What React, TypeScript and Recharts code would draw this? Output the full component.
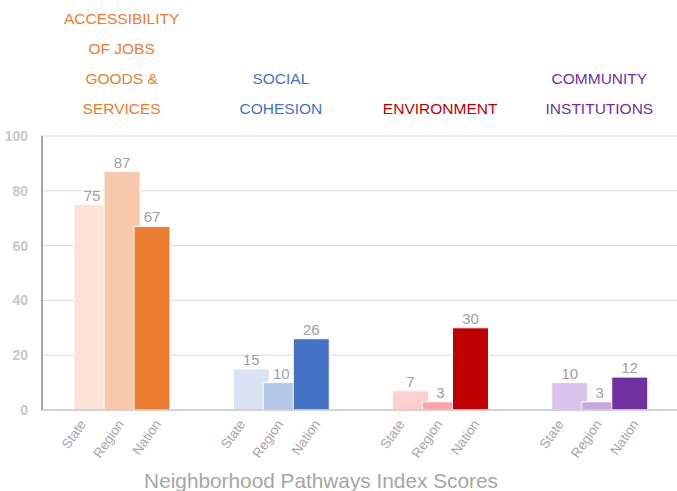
import { Bar, BarChart, CartesianGrid, Cell, LabelList, XAxis, YAxis } from 'recharts'

const categories = ['Accessibility', 'Social Cohesion', 'Environment', 'Community Institutions']
const headers = [
  ['ACCESSIBILITY', 'OF JOBS', 'GOODS &', 'SERVICES'],
  ['SOCIAL', 'COHESION'],
  ['ENVIRONMENT'],
  ['COMMUNITY', 'INSTITUTIONS'],
]
const levels = ['State', 'Region', 'Nation']
const stateScores = [75, 15, 7, 10]
const regionScores = [87, 10, 3, 3]
const nationScores = [67, 26, 30, 12]
const yTicks = [0, 20, 40, 60, 80, 100]

const stateColors = ['#FBE3D6', '#DAE3F3', '#FFCFCF', '#D9C3EC']
const regionColors = ['#F7C8AC', '#B4C7E7', '#FFA3A3', '#C9A5E3']
const nationColors = ['#ED7D31', '#4472C4', '#C00000', '#7030A0']

const data = categories.map((name, i) => ({
  name,
  state: stateScores[i],
  region: regionScores[i],
  nation: nationScores[i],
}))

const FONT = '"Liberation Sans", Arial, sans-serif'
const labelOffsets = [-35, 3, 40]

function HeaderTick({ x, y, index }: any) {
  const lines = headers[index] || []
  const n = lines.length
  return (
    <g>
      {lines.map((line, i) => (
        <text
          key={line}
          x={x}
          y={y - 22 - (n - 1 - i) * 30}
          textAnchor="middle"
          fill={nationColors[index]}
          fontSize={15.5}
          fontFamily={FONT}
        >
          {line}
        </text>
      ))}
    </g>
  )
}

function LevelTick({ x, y }: any) {
  return (
    <g>
      {levels.map((lvl, i) => (
        <text
          key={lvl}
          x={0}
          y={0}
          transform={`translate(${x + labelOffsets[i]},${y + 12}) rotate(-55)`}
          textAnchor="end"
          fill="#a6a6a6"
          fontSize={13.5}
          fontFamily={FONT}
        >
          {lvl}
        </text>
      ))}
    </g>
  )
}

const valueLabel = { position: 'top' as const, fill: '#a0a0a0', fontSize: 15, fontFamily: FONT, offset: 4 }

export default function App() {
  return (
    <div style={{ position: 'absolute', left: 0, top: 0, background: '#fff' }}>
      <BarChart
        width={677}
        height={491}
        data={data}
        margin={{ top: 0, right: -2, left: 0, bottom: 0 }}
        barSize={36}
        barGap={-6}
      >
        <CartesianGrid vertical={false} stroke="#dcdcdc" />
        <XAxis
          xAxisId="top"
          orientation="top"
          dataKey="name"
          height={136}
          axisLine={false}
          tickLine={false}
          tickSize={0}
          tickMargin={0}
          interval={0}
          tick={<HeaderTick />}
        />
        <XAxis
          dataKey="name"
          height={81}
          axisLine={{ stroke: '#c8c8c8', strokeWidth: 1.5 }}
          tickLine={false}
          tickSize={0}
          interval={0}
          tick={<LevelTick />}
        />
        <YAxis
          width={42}
          domain={[0, 100]}
          ticks={yTicks}
          axisLine={{ stroke: '#a6a6a6', strokeWidth: 2 }}
          tickLine={false}
          tick={{ fill: '#c8c8c8', fontSize: 14, fontWeight: 'bold', fontFamily: FONT }}
          tickMargin={8}
        />
        <Bar dataKey="state" stroke="#fff" strokeWidth={1} isAnimationActive={false}>
          {data.map((d, i) => (
            <Cell key={d.name} fill={stateColors[i]} />
          ))}
          <LabelList dataKey="state" {...valueLabel} />
        </Bar>
        <Bar dataKey="region" stroke="#fff" strokeWidth={1} isAnimationActive={false}>
          {data.map((d, i) => (
            <Cell key={d.name} fill={regionColors[i]} />
          ))}
          <LabelList dataKey="region" {...valueLabel} />
        </Bar>
        <Bar dataKey="nation" stroke="#fff" strokeWidth={1} isAnimationActive={false}>
          {data.map((d, i) => (
            <Cell key={d.name} fill={nationColors[i]} />
          ))}
          <LabelList dataKey="nation" {...valueLabel} />
        </Bar>
        <text x={321} y={488} textAnchor="middle" fill="#a6a6a6" fontSize={20.8} fontFamily={FONT}>
          Neighborhood Pathways Index Scores
        </text>
      </BarChart>
    </div>
  )
}
